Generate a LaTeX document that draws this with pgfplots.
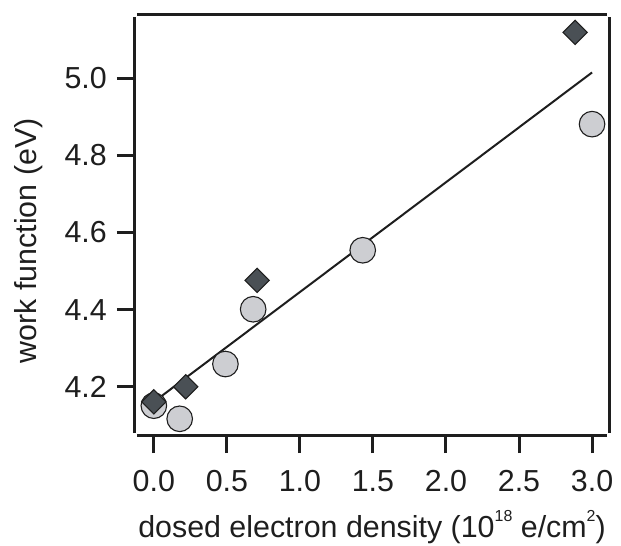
\documentclass[border=0pt]{standalone}
\usepackage{fontspec}
\setmainfont{Liberation Sans}
\usepackage{pgfplots}
\pgfplotsset{compat=1.18}
\definecolor{circfill}{HTML}{CDCED2}
\definecolor{diafill}{HTML}{4A5055}
\definecolor{ink}{HTML}{1E1E1E}
\newcommand{\smallsup}[1]{\raisebox{0.5em}{\fontsize{16}{16}\selectfont #1}}
\begin{document}
\begin{tikzpicture}
\useasboundingbox (-135bp,-111bp) rectangle (486bp,435bp);
\begin{axis}[
  at={(0,0)}, anchor=south west,
  width=474bp, height=420bp, scale only axis,
  xmin=-0.129, xmax=3.116, ymin=4.075, ymax=5.164,
  xtick={0,0.5,...,3.0}, ytick={4.2,4.4,4.6,4.8,5.0},
  xticklabel style={/pgf/number format/fixed,/pgf/number format/fixed zerofill,/pgf/number format/precision=1},
  yticklabel style={/pgf/number format/fixed,/pgf/number format/fixed zerofill,/pgf/number format/precision=1},
  /pgf/number format/assume math mode=true,
  tick label style={font=\fontsize{30.5}{34}\selectfont, text=ink, inner sep=0pt},
  xticklabel style={anchor=north}, yticklabel style={anchor=east},
  xticklabel shift=17bp, yticklabel shift=10bp,
  every axis x label/.style={at={(axis description cs:0.5,-0.243)}, anchor=base,
    font=\fontsize{30.5}{34}\selectfont, text=ink},
  every axis y label/.style={at={(axis description cs:-0.2236,0.462)}, anchor=center, rotate=90,
    font=\fontsize{30.5}{34}\selectfont, text=ink},
  xlabel={dosed electron density (10\smallsup{18} e/cm\smallsup{2})},
  ylabel={work function (eV)},
  tick align=outside, major tick length=18bp,
  tick style={line width=3bp, ink},
  axis line style={line width=3bp, ink},
  separate axis lines,
  every outer x axis line/.append style={shorten <=2bp, shorten >=2bp},
  every outer y axis line/.append style={shorten <=2bp, shorten >=2bp},
  xtick pos=bottom, ytick pos=left,
  clip=false]
\addplot[ink, line width=2bp] coordinates {(0,4.161) (3.0,5.015)};
\addplot[only marks, mark=*, mark size=12.8bp, mark options={fill=circfill, draw=ink, line width=1.1bp}]
  coordinates {(0,4.151) (0.177,4.117) (0.49,4.259) (0.68,4.401) (1.43,4.554) (3.0,4.881)};
\addplot[only marks, mark=square*, mark size=8.6bp, mark options={rotate=45, fill=diafill, draw=ink, line width=1.1bp}]
  coordinates {(0,4.161) (0.218,4.200) (0.707,4.476) (2.884,5.119)};
\end{axis}
\end{tikzpicture}
\end{document}
